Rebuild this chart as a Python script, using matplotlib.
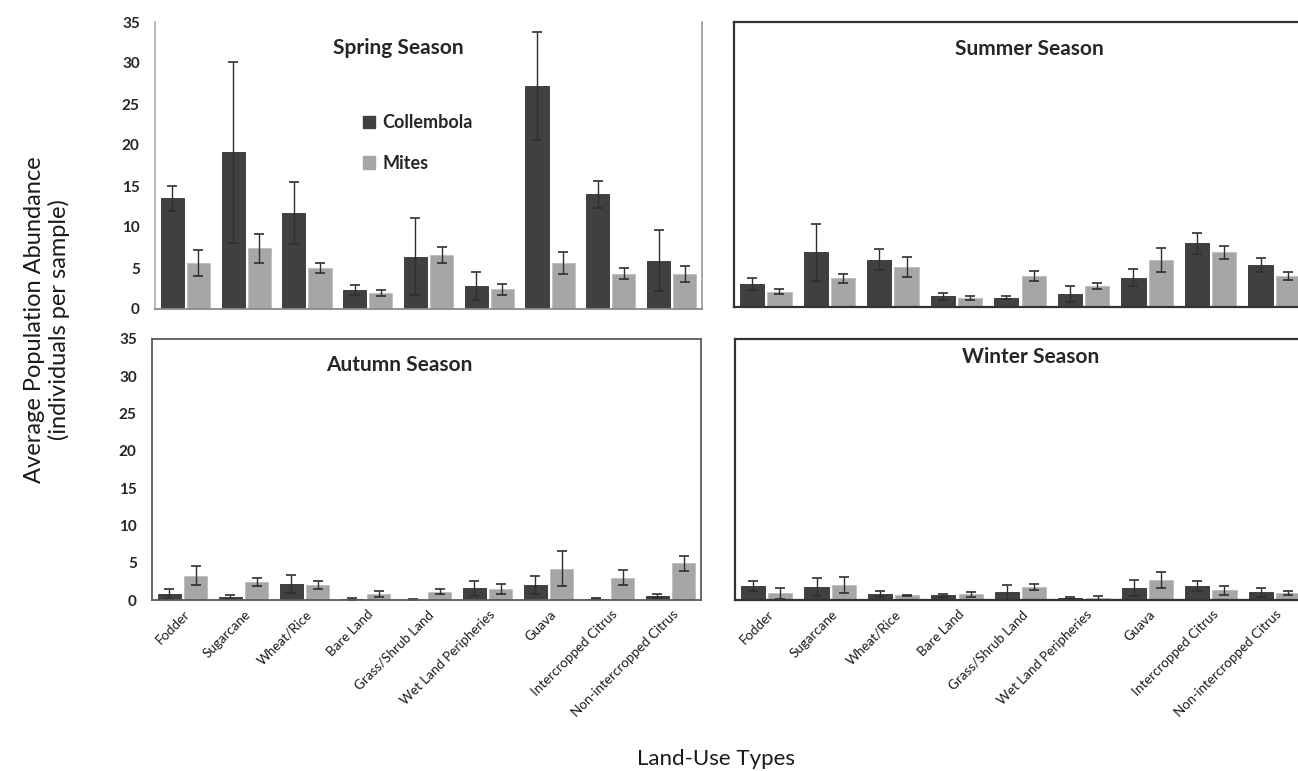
import numpy as np
import matplotlib.pyplot as plt
from matplotlib.patches import Patch

plt.rcParams['font.family'] = ['Lato', 'DejaVu Sans']

land_use = ["Fodder", "Sugarcane", "Wheat/Rice", "Bare Land", "Grass/Shrub Land",
            "Wet Land Peripheries", "Guava", "Intercropped Citrus", "Non-intercropped Citrus"]

# mean values and error bars
spring_col = [13.5, 19.1, 11.7, 2.3, 6.4, 2.8, 27.2, 14.0, 5.9]
spring_col_err = [1.5, 11.0, 3.8, 0.6, 4.7, 1.7, 6.6, 1.65, 3.7]
spring_mit = [5.6, 7.4, 5.0, 1.9, 6.6, 2.4, 5.6, 4.3, 4.3]
spring_mit_err = [1.55, 1.8, 0.55, 0.37, 0.95, 0.65, 1.35, 0.65, 0.98]

summer_col = [2.8, 6.7, 5.8, 1.3, 1.15, 1.6, 3.6, 7.8, 5.1]
summer_col_err = [0.7, 3.45, 1.3, 0.4, 0.16, 1.0, 1.07, 1.23, 0.86]
summer_mit = [1.9, 3.5, 4.9, 1.1, 3.8, 2.6, 5.8, 6.7, 3.8]
summer_mit_err = [0.25, 0.5, 1.27, 0.3, 0.6, 0.33, 1.5, 0.82, 0.45]

autumn_col = [0.76, 0.4, 2.15, 0.13, 0.05, 1.56, 1.97, 0.18, 0.49]
autumn_col_err = [0.67, 0.3, 1.15, 0.13, 0.05, 1.0, 1.2, 0.1, 0.27]
autumn_mit = [3.26, 2.41, 2.01, 0.8, 1.12, 1.52, 4.2, 3.0, 4.92]
autumn_mit_err = [1.25, 0.54, 0.54, 0.36, 0.31, 0.67, 2.37, 0.98, 1.03]

winter_col = [1.92, 1.74, 0.8, 0.63, 1.03, 0.31, 1.65, 1.92, 1.03]
winter_col_err = [0.67, 1.16, 0.4, 0.18, 1.0, 0.13, 1.07, 0.67, 0.62]
winter_mit = [0.89, 2.0, 0.63, 0.76, 1.74, 0.22, 2.72, 1.3, 0.98]
winter_mit_err = [0.76, 1.07, 0.1, 0.36, 0.4, 0.27, 1.07, 0.62, 0.27]

dark = "#404040"
light = "#a6a6a6"

fig = plt.figure(figsize=(12.98, 7.71), dpi=100)
W, H = 1298, 771


def make_ax(l, t, r, b):
    return fig.add_axes([l / W, 1 - b / H, (r - l) / W, (b - t) / H])


ax_sp = make_ax(155, 22, 702, 309)
ax_su = make_ax(734, 22, 1306, 307)
ax_au = make_ax(152, 339, 701, 600)
ax_wi = make_ax(735, 339, 1306, 600)

panels = [
    (ax_sp, "Spring Season", spring_col, spring_col_err, spring_mit, spring_mit_err, (0.444, 0.91)),
    (ax_su, "Summer Season", summer_col, summer_col_err, summer_mit, summer_mit_err, (0.517, 0.905)),
    (ax_au, "Autumn Season", autumn_col, autumn_col_err, autumn_mit, autumn_mit_err, (0.45, 0.9)),
    (ax_wi, "Winter Season", winter_col, winter_col_err, winter_mit, winter_mit_err, (0.518, 0.93)),
]

x = np.arange(len(land_use))
w = 0.38
ekw = dict(ecolor="#2e2e2e", elinewidth=1, capthick=1.2)

for ax, title, c, ce, m, me, tpos in panels:
    ax.bar(x - 0.215, c, w, yerr=ce, color=dark, edgecolor="#303030", linewidth=0.6,
           capsize=3.5, error_kw=ekw, label="Collembola")
    ax.bar(x + 0.215, m, w, yerr=me, color=light, edgecolor="#bdbdbd", linewidth=0.6,
           capsize=3.5, error_kw=ekw, label="Mites")
    ax.set_xlim(-0.5, 8.5)
    ax.set_ylim(0, 35)
    ax.text(tpos[0], tpos[1], title, transform=ax.transAxes, ha="center", va="center",
            fontsize=15, fontweight="bold", color="#262626")
    ax.tick_params(length=0)
    ax.set_xticks([])

for ax in (ax_sp, ax_au):
    ax.set_yticks(np.arange(0, 36, 5))
    ax.tick_params(axis="y", pad=11, labelsize=11, labelcolor="#262626")
    for lab in ax.get_yticklabels():
        lab.set_fontweight("bold")
for ax in (ax_su, ax_wi):
    ax.set_yticks([])

# spring frame: light grey, no top line
ax_sp.spines["top"].set_visible(False)
ax_sp.spines["left"].set_color("#b5b5b5")
ax_sp.spines["right"].set_color("#a0a0a0")
ax_sp.spines["bottom"].set_color("#8a8a8a")
for s in ax_sp.spines.values():
    s.set_linewidth(1.3)
for s in ax_au.spines.values():
    s.set_color("#5a5a5a")
    s.set_linewidth(1.3)
for ax in (ax_su, ax_wi):
    for s in ax.spines.values():
        s.set_color("#333333")
        s.set_linewidth(1.6)

# rotated category labels under the bottom panels
for ax in (ax_au, ax_wi):
    ax.set_xticks(x + 0.02)
    ax.set_xticklabels(land_use, rotation=45, ha="right", va="top",
                       rotation_mode="anchor", fontsize=9.6, color="#1a1a1a")
    ax.tick_params(axis="x", pad=6)

handles = [Patch(facecolor=dark, edgecolor=dark), Patch(facecolor=light, edgecolor=light)]
ax_sp.legend(handles, ["Collembola", "Mites"], loc="upper left",
             bbox_to_anchor=(0.35, 0.735), frameon=False, handlelength=0.7,
             handleheight=0.7, handletextpad=0.4, labelspacing=1.3,
             prop=dict(size=13, weight="bold"), labelcolor="#262626")

fig.text(0.036, 0.585, "Average Population Abundance\n(individuals per sample)",
         rotation=90, ha="center", va="center", fontsize=17, color="#1a1a1a",
         multialignment="center", linespacing=1.15)
fig.text(0.552, 0.015, "Land-Use Types", ha="center", va="center", fontsize=16,
         color="#1a1a1a")

fig.savefig("out.png", dpi=100)
